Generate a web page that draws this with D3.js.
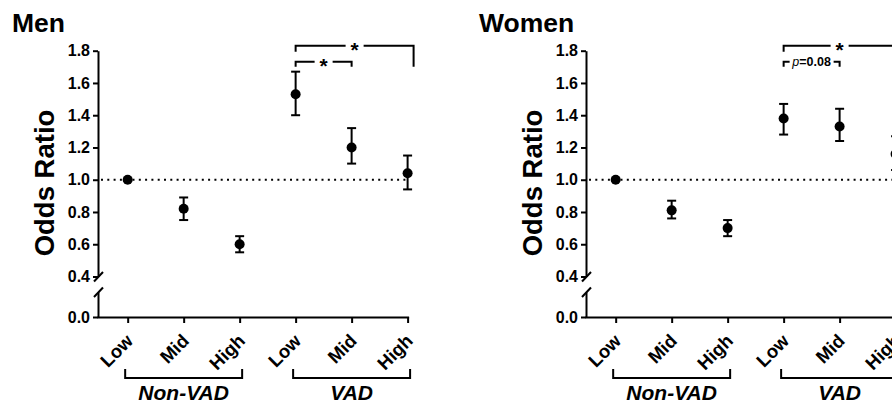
<!DOCTYPE html>
<html>
<head>
<meta charset="utf-8">
<script src="https://cdn.jsdelivr.net/npm/d3@7"></script>
<style>
  html, body { margin: 0; padding: 0; background: #fff; }
  svg { display: block; }
  text { font-family: "Liberation Sans", Arial, Helvetica, sans-serif; fill: #000; }
</style>
</head>
<body>
<svg id="chart" width="892" height="404"></svg>
<script>
// ---------- data ----------
const categories = ["Low", "Mid", "High", "Low", "Mid", "High"];
const groups = ["Non-VAD", "VAD"];
const groupMembers = [[0, 2], [3, 5]];
const yTicks = [0.4, 0.6, 0.8, 1.0, 1.2, 1.4, 1.6, 1.8];
const yLowTicks = [0.0];

const menOR = [1.00, 0.82, 0.60, 1.53, 1.20, 1.04];
const menLo = [1.00, 0.75, 0.55, 1.40, 1.10, 0.94];
const menHi = [1.00, 0.89, 0.65, 1.67, 1.32, 1.15];

const womenOR = [1.00, 0.81, 0.70, 1.38, 1.33, 1.16];
const womenLo = [1.00, 0.76, 0.65, 1.28, 1.24, 1.06];
const womenHi = [1.00, 0.87, 0.75, 1.47, 1.44, 1.27];

const menSig = [
  { a: 3, b: 4, label: "*" },
  { a: 3, b: 5, label: "*" }
];
const womenSig = [
  { a: 3, b: 4, label: "p=0.08" },
  { a: 3, b: 5, label: "*" }
];

const panels = [
  { title: "Men", or: menOR, lo: menLo, hi: menHi, sig: menSig, dx: 0, titleX: 12, bigRightExtra: 6, bigRightDrop: 21 },
  { title: "Women", or: womenOR, lo: womenLo, hi: womenHi, sig: womenSig, dx: 488, titleX: 479, bigRightExtra: 0, bigRightDrop: 6 }
];

// ---------- drawing ----------
const svg = d3.select("#chart");
const SW = 2;

panels.forEach(p => {
  const g = svg.append("g").attr("transform", `translate(${p.dx},0)`);
  const axisX = 98;
  const x = d3.scaleLinear().domain([-0.53, 5]).range([axisX, 407.6]);
  const yU = d3.scaleLinear().domain([0.4, 1.8]).range([276.5, 50.7]);
  const yL = d3.scaleLinear().domain([0, 0.16]).range([317, 292]);
  const x0 = 317;

  // title
  g.append("text").attr("x", p.titleX - p.dx).attr("y", 31.5)
    .attr("font-size", 26.5).attr("font-weight", "bold").text(p.title);

  // y axis title
  g.append("text")
    .attr("transform", `translate(54,183) rotate(-90)`)
    .attr("text-anchor", "middle")
    .attr("font-size", 27.5).attr("font-weight", "bold")
    .text("Odds Ratio");

  // upper y axis
  const ya = g.append("g").attr("transform", `translate(${axisX},0)`)
    .call(d3.axisLeft(yU).tickValues(yTicks).tickSize(5).tickSizeOuter(0).tickPadding(3)
      .tickFormat(d3.format(".1f")));
  // lower y axis
  const yb = g.append("g").attr("transform", `translate(${axisX},0)`)
    .call(d3.axisLeft(yL).tickValues(yLowTicks).tickSize(5).tickSizeOuter(0).tickPadding(3)
      .tickFormat(d3.format(".1f")));
  [ya, yb].forEach(a => {
    a.selectAll("path, line").attr("stroke", "#000").attr("stroke-width", SW);
    a.selectAll("text").attr("font-size", 16).attr("font-weight", "bold")
      .attr("font-family", "'Liberation Sans', Arial, sans-serif");
  });

  // break marks
  const brk = [yU(0.4), yL(0.16)];
  brk.forEach(yy => {
    g.append("line").attr("x1", axisX - 4).attr("y1", yy + 5)
      .attr("x2", axisX + 5).attr("y2", yy - 4.5)
      .attr("stroke", "#000").attr("stroke-width", SW);
  });

  // x axis
  const xa = g.append("g").attr("transform", `translate(0,${x0})`)
    .call(d3.axisBottom(x).tickValues(d3.range(categories.length)).tickSize(6).tickSizeOuter(0)
      .tickFormat(i => categories[i]));
  xa.selectAll("path, line").attr("stroke", "#000").attr("stroke-width", SW);
  xa.select("path.domain").attr("stroke-linecap", "square");
  xa.selectAll("text")
    .attr("font-size", 18.5).attr("font-weight", "bold")
    .attr("font-family", "'Liberation Sans', Arial, sans-serif")
    .attr("text-anchor", "end")
    .attr("dy", null)
    .attr("y", null)
    .attr("transform", "translate(6,25) rotate(-45)");

  // reference dotted line
  g.append("line")
    .attr("x1", axisX + 3).attr("x2", p.dx > 0 ? 892 - p.dx + 10 : x.range()[1])
    .attr("y1", yU(1)).attr("y2", yU(1))
    .attr("stroke", "#000").attr("stroke-width", 2)
    .attr("stroke-dasharray", "2,4.3");

  // error bars
  const idx = d3.range(p.or.length);
  const eb = g.append("g");
  idx.forEach(i => {
    if (p.hi[i] === p.lo[i]) return;
    const cx = x(i);
    eb.append("line").attr("x1", cx).attr("x2", cx).attr("y1", yU(p.lo[i])).attr("y2", yU(p.hi[i]))
      .attr("stroke", "#000").attr("stroke-width", SW);
    [p.lo[i], p.hi[i]].forEach(v => {
      eb.append("line").attr("x1", cx - 4.5).attr("x2", cx + 4.5).attr("y1", yU(v)).attr("y2", yU(v))
        .attr("stroke", "#000").attr("stroke-width", SW);
    });
  });
  g.append("g").selectAll("circle").data(idx).join("circle")
    .attr("cx", i => x(i)).attr("cy", i => yU(p.or[i])).attr("r", 5).attr("fill", "#000");

  // significance brackets
  p.sig.forEach((s, k) => {
    const big = s.b - s.a > 1;
    const yy = big ? 45.7 : 61.7;
    const xa1 = x(s.a);
    const xb1 = x(s.b) + (big ? p.bigRightExtra : 0);
    const dropL = big ? 6 : 5;
    const dropR = big ? p.bigRightDrop : 5;
    const cxm = (xa1 + xb1) / 2;
    const isStar = s.label === "*";
    const gap = isStar ? 9 : 22;
    const path = d3.path();
    path.moveTo(xa1, yy + dropL); path.lineTo(xa1, yy); path.lineTo(cxm - gap, yy);
    path.moveTo(cxm + gap, yy); path.lineTo(xb1, yy); path.lineTo(xb1, yy + dropR);
    g.append("path").attr("d", path.toString()).attr("fill", "none")
      .attr("stroke", "#000").attr("stroke-width", SW);
    if (isStar) {
      g.append("text").attr("x", cxm).attr("y", yy + 11).attr("text-anchor", "middle")
        .attr("font-size", 21).attr("font-weight", "bold").text("*");
    } else {
      const t = g.append("text").attr("x", cxm).attr("y", yy + 4.5).attr("text-anchor", "middle")
        .attr("font-size", 12.5).attr("font-weight", "bold");
      t.append("tspan").attr("font-style", "italic").attr("font-weight", "normal").text(s.label.slice(0, 1));
      t.append("tspan").text(s.label.slice(1));
    }
  });

  // group brackets
  groups.forEach((gn, k) => {
    const xa1 = x(groupMembers[k][0]) - 2.5;
    const xb1 = x(groupMembers[k][1]) + 2.5;
    const yy = 378;
    g.append("path")
      .attr("d", `M${xa1},369 L${xa1},${yy} L${xb1},${yy} L${xb1},369`)
      .attr("fill", "none").attr("stroke", "#000").attr("stroke-width", SW);
    g.append("text").attr("x", (xa1 + xb1) / 2).attr("y", 400).attr("text-anchor", "middle")
      .attr("font-size", 21).attr("font-weight", "bold").attr("font-style", "italic").text(gn);
  });
});
</script>
</body>
</html>
